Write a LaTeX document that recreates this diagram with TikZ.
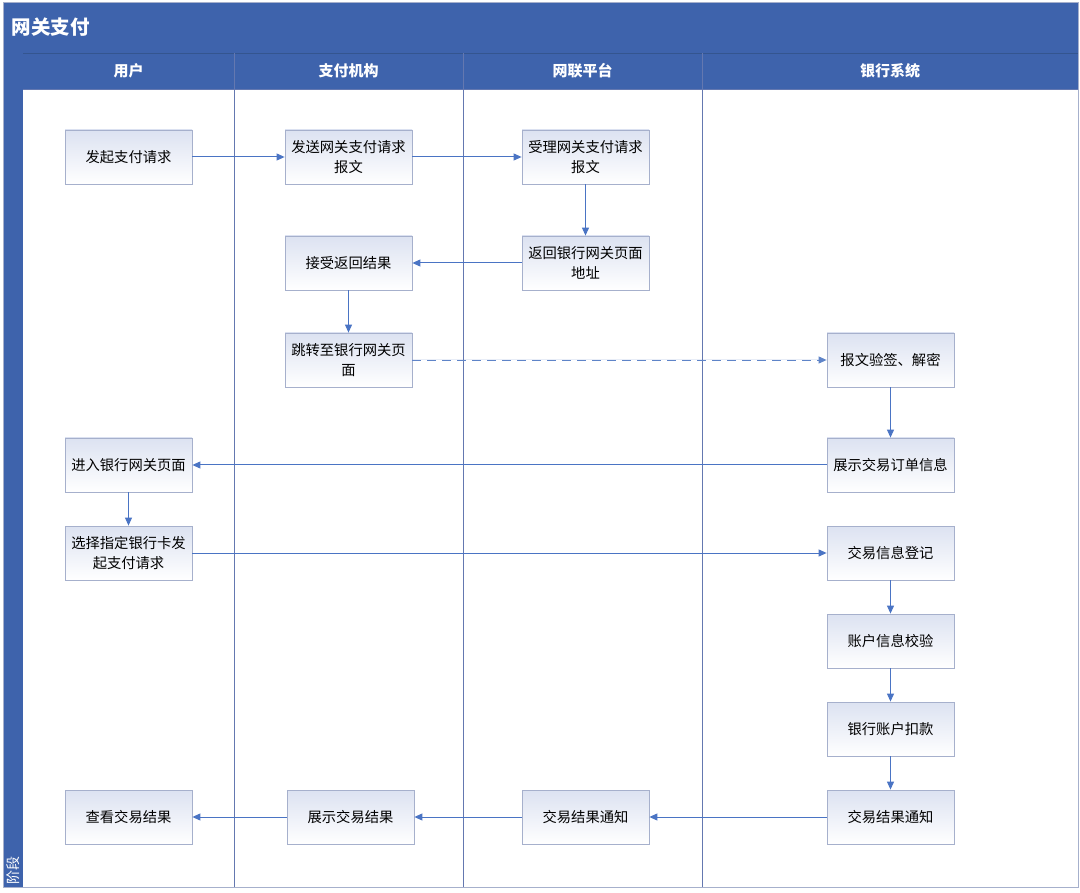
\documentclass[tikz,border=0pt]{standalone}
\usepackage{fontspec}
\setmainfont{Noto Sans CJK SC}
\usetikzlibrary{arrows.meta}
\definecolor{hdr}{HTML}{3E63AC}
\definecolor{hdrline}{HTML}{34558F}
\definecolor{lane}{HTML}{6478B0}
\definecolor{arr}{HTML}{4A74C4}
\definecolor{dsh}{HTML}{5F84C8}
\definecolor{bxline}{HTML}{A6B0CC}
\definecolor{bxtop}{HTML}{DCE2F1}
\begin{document}
\begin{tikzpicture}[x=1pt,y=-1pt,
  proc/.style={draw=bxline, line width=0.8pt, top color=bxtop, bottom color=white, minimum width=127pt, minimum height=54pt, text width=122pt, align=center, font=\fontsize{14.3}{20.5}\selectfont, inner sep=2pt},
  conn/.style={draw=arr, line width=1pt, -{Triangle[length=8pt,width=7pt]}},
  hdrtext/.style={text=white, font=\bfseries\fontsize{15}{17}\selectfont}]
\useasboundingbox (0,0) rectangle (1080,893);
\fill[white] (0,0) rectangle (1080,893);
% frame
\fill[hdr] (3,2) rectangle (1078,89);
\fill[hdr] (3,2) rectangle (23,887);
\draw[hdrline, line width=0.6pt] (23,53) -- (1078,53);
\draw[bxline, line width=0.8pt] (3,2) rectangle (1078,887);
\node[anchor=west, text=white, font=\bfseries\fontsize{19.5}{22}\selectfont] (title) at (8,27) {网关支付};
\node[rotate=90, anchor=west, text=white, font=\fontsize{14}{16}\selectfont, inner sep=1pt] (phase) at (13,886) {阶段};
% lanes
\foreach \x in {234,463,702} {\draw[lane, line width=0.8pt] (\x,53) -- (\x,887);}
\draw[lane, line width=0.8pt] (23,89) -- (1078,89);
\node[hdrtext] (l1) at (128.5,71) {用户};
\node[hdrtext] (l2) at (348.5,71) {支付机构};
\node[hdrtext] (l3) at (582.5,71) {网联平台};
\node[hdrtext] (l4) at (890,71) {银行系统};
% nodes
\node[proc] (a1) at (128.5,157) {发起支付请求};
\node[proc] (b1) at (348.5,157) {发送网关支付请求\\报文};
\node[proc] (c1) at (585.5,157) {受理网关支付请求\\报文};
\node[proc] (c2) at (585.5,263) {返回银行网关页面\\地址};
\node[proc] (b2) at (348.5,263) {接受返回结果};
\node[proc] (b3) at (348.5,360) {跳转至银行网关页\\面};
\node[proc] (d1) at (890.5,360) {报文验签、解密};
\node[proc] (d2) at (890.5,465) {展示交易订单信息};
\node[proc] (a2) at (128.5,465) {进入银行网关页面};
\node[proc] (a3) at (128.5,553) {选择指定银行卡发\\起支付请求};
\node[proc] (d3) at (890.5,553) {交易信息登记};
\node[proc] (d4) at (890.5,641) {账户信息校验};
\node[proc] (d5) at (890.5,729) {银行账户扣款};
\node[proc] (d6) at (890.5,817) {交易结果通知};
\node[proc] (c3) at (585.5,817) {交易结果通知};
\node[proc] (b4) at (350.5,817) {展示交易结果};
\node[proc] (a4) at (128.5,817) {查看交易结果};
% connectors
\draw[conn] (a1) -- (b1);
\draw[conn] (b1) -- (c1);
\draw[conn] (c1) -- (c2);
\draw[conn] (c2) -- (b2);
\draw[conn] (b2) -- (b3);
\draw[conn, draw=dsh, fill=arr, dash pattern=on 9pt off 6pt, line width=0.9pt] (b3) -- (d1);
\draw[conn] (d1) -- (d2);
\draw[conn] (d2) -- (a2);
\draw[conn] (a2) -- (a3);
\draw[conn] (a3) -- (d3);
\draw[conn] (d3) -- (d4);
\draw[conn] (d4) -- (d5);
\draw[conn] (d5) -- (d6);
\draw[conn] (d6) -- (c3);
\draw[conn] (c3) -- (b4);
\draw[conn] (b4) -- (a4);
\end{tikzpicture}
\end{document}
